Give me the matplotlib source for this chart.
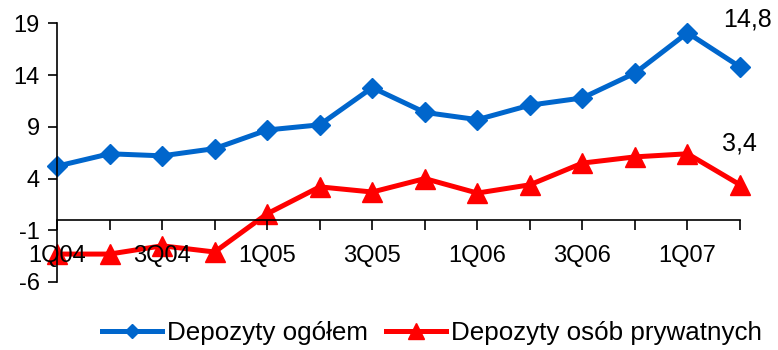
import matplotlib
matplotlib.use("Agg")
import matplotlib.pyplot as plt

plt.rcParams['font.family'] = ['Liberation Sans', 'DejaVu Sans']
plt.rcParams['axes.unicode_minus'] = False

quarters = ['1Q04', '2Q04', '3Q04', '4Q04', '1Q05', '2Q05', '3Q05',
            '4Q05', '1Q06', '2Q06', '3Q06', '4Q06', '1Q07', '2Q07']
total = [5.2, 6.4, 6.2, 6.9, 8.7, 9.2, 12.8, 10.4, 9.7, 11.1, 11.8, 14.2, 18.1, 14.8]
private = [-3.3, -3.3, -2.5, -3.1, 0.6, 3.2, 2.7, 4.0, 2.6, 3.4, 5.5, 6.1, 6.4, 3.4]

blue = '#0066CC'
red = '#FF0000'

fig = plt.figure(figsize=(7.78, 3.5), dpi=100)
ax = fig.add_axes([0.0733, 0.1943, 0.8779, 0.7386])
ax.set_axisbelow(False)  # tick labels sit on top of the lines

x = list(range(len(quarters)))
ax.plot(x, total, color=blue, lw=3.6, marker='D', ms=10, mec=blue, mfc=blue,
        label='Depozyty ogółem', clip_on=False, zorder=2)
ax.plot(x, private, color=red, lw=3.6, marker='^', ms=15, mec=red, mfc=red,
        label='Depozyty osób prywatnych', clip_on=False, zorder=2)

# last values written next to the final points
ax.annotate(f"{total[-1]:.1f}".replace('.', ','), xy=(x[-1], total[-1]),
            xytext=(-12, 34), textcoords='offset points',
            ha='left', va='center', fontsize=18)
ax.annotate(f"{private[-1]:.1f}".replace('.', ','), xy=(x[-1], private[-1]),
            xytext=(-13, 30), textcoords='offset points',
            ha='left', va='center', fontsize=18)

ax.set_xlim(0, len(quarters) - 1)
ax.set_ylim(-6, 19)
ax.set_yticks([-6, -1, 4, 9, 14, 19])
ax.set_xticks(x)
ax.set_xticklabels([q if i % 2 == 0 else '' for i, q in enumerate(quarters)])

ax.spines['top'].set_visible(False)
ax.spines['right'].set_visible(False)
ax.spines['bottom'].set_position(('data', 0))
for s in ('left', 'bottom'):
    ax.spines[s].set_linewidth(1.2)

ax.tick_params(axis='x', direction='out', length=7, width=1.2, pad=11, labelsize=17)
ax.tick_params(axis='y', direction='out', length=6.5, width=1.2, pad=6, labelsize=17)

fig.legend(loc='center', bbox_to_anchor=(432 / 778, 0.049), ncol=2, frameon=False,
           fontsize=18.7, handlelength=2.3, handletextpad=0.2, columnspacing=0.7,
           markerscale=0.75)

fig.savefig('out.png', dpi=100)
